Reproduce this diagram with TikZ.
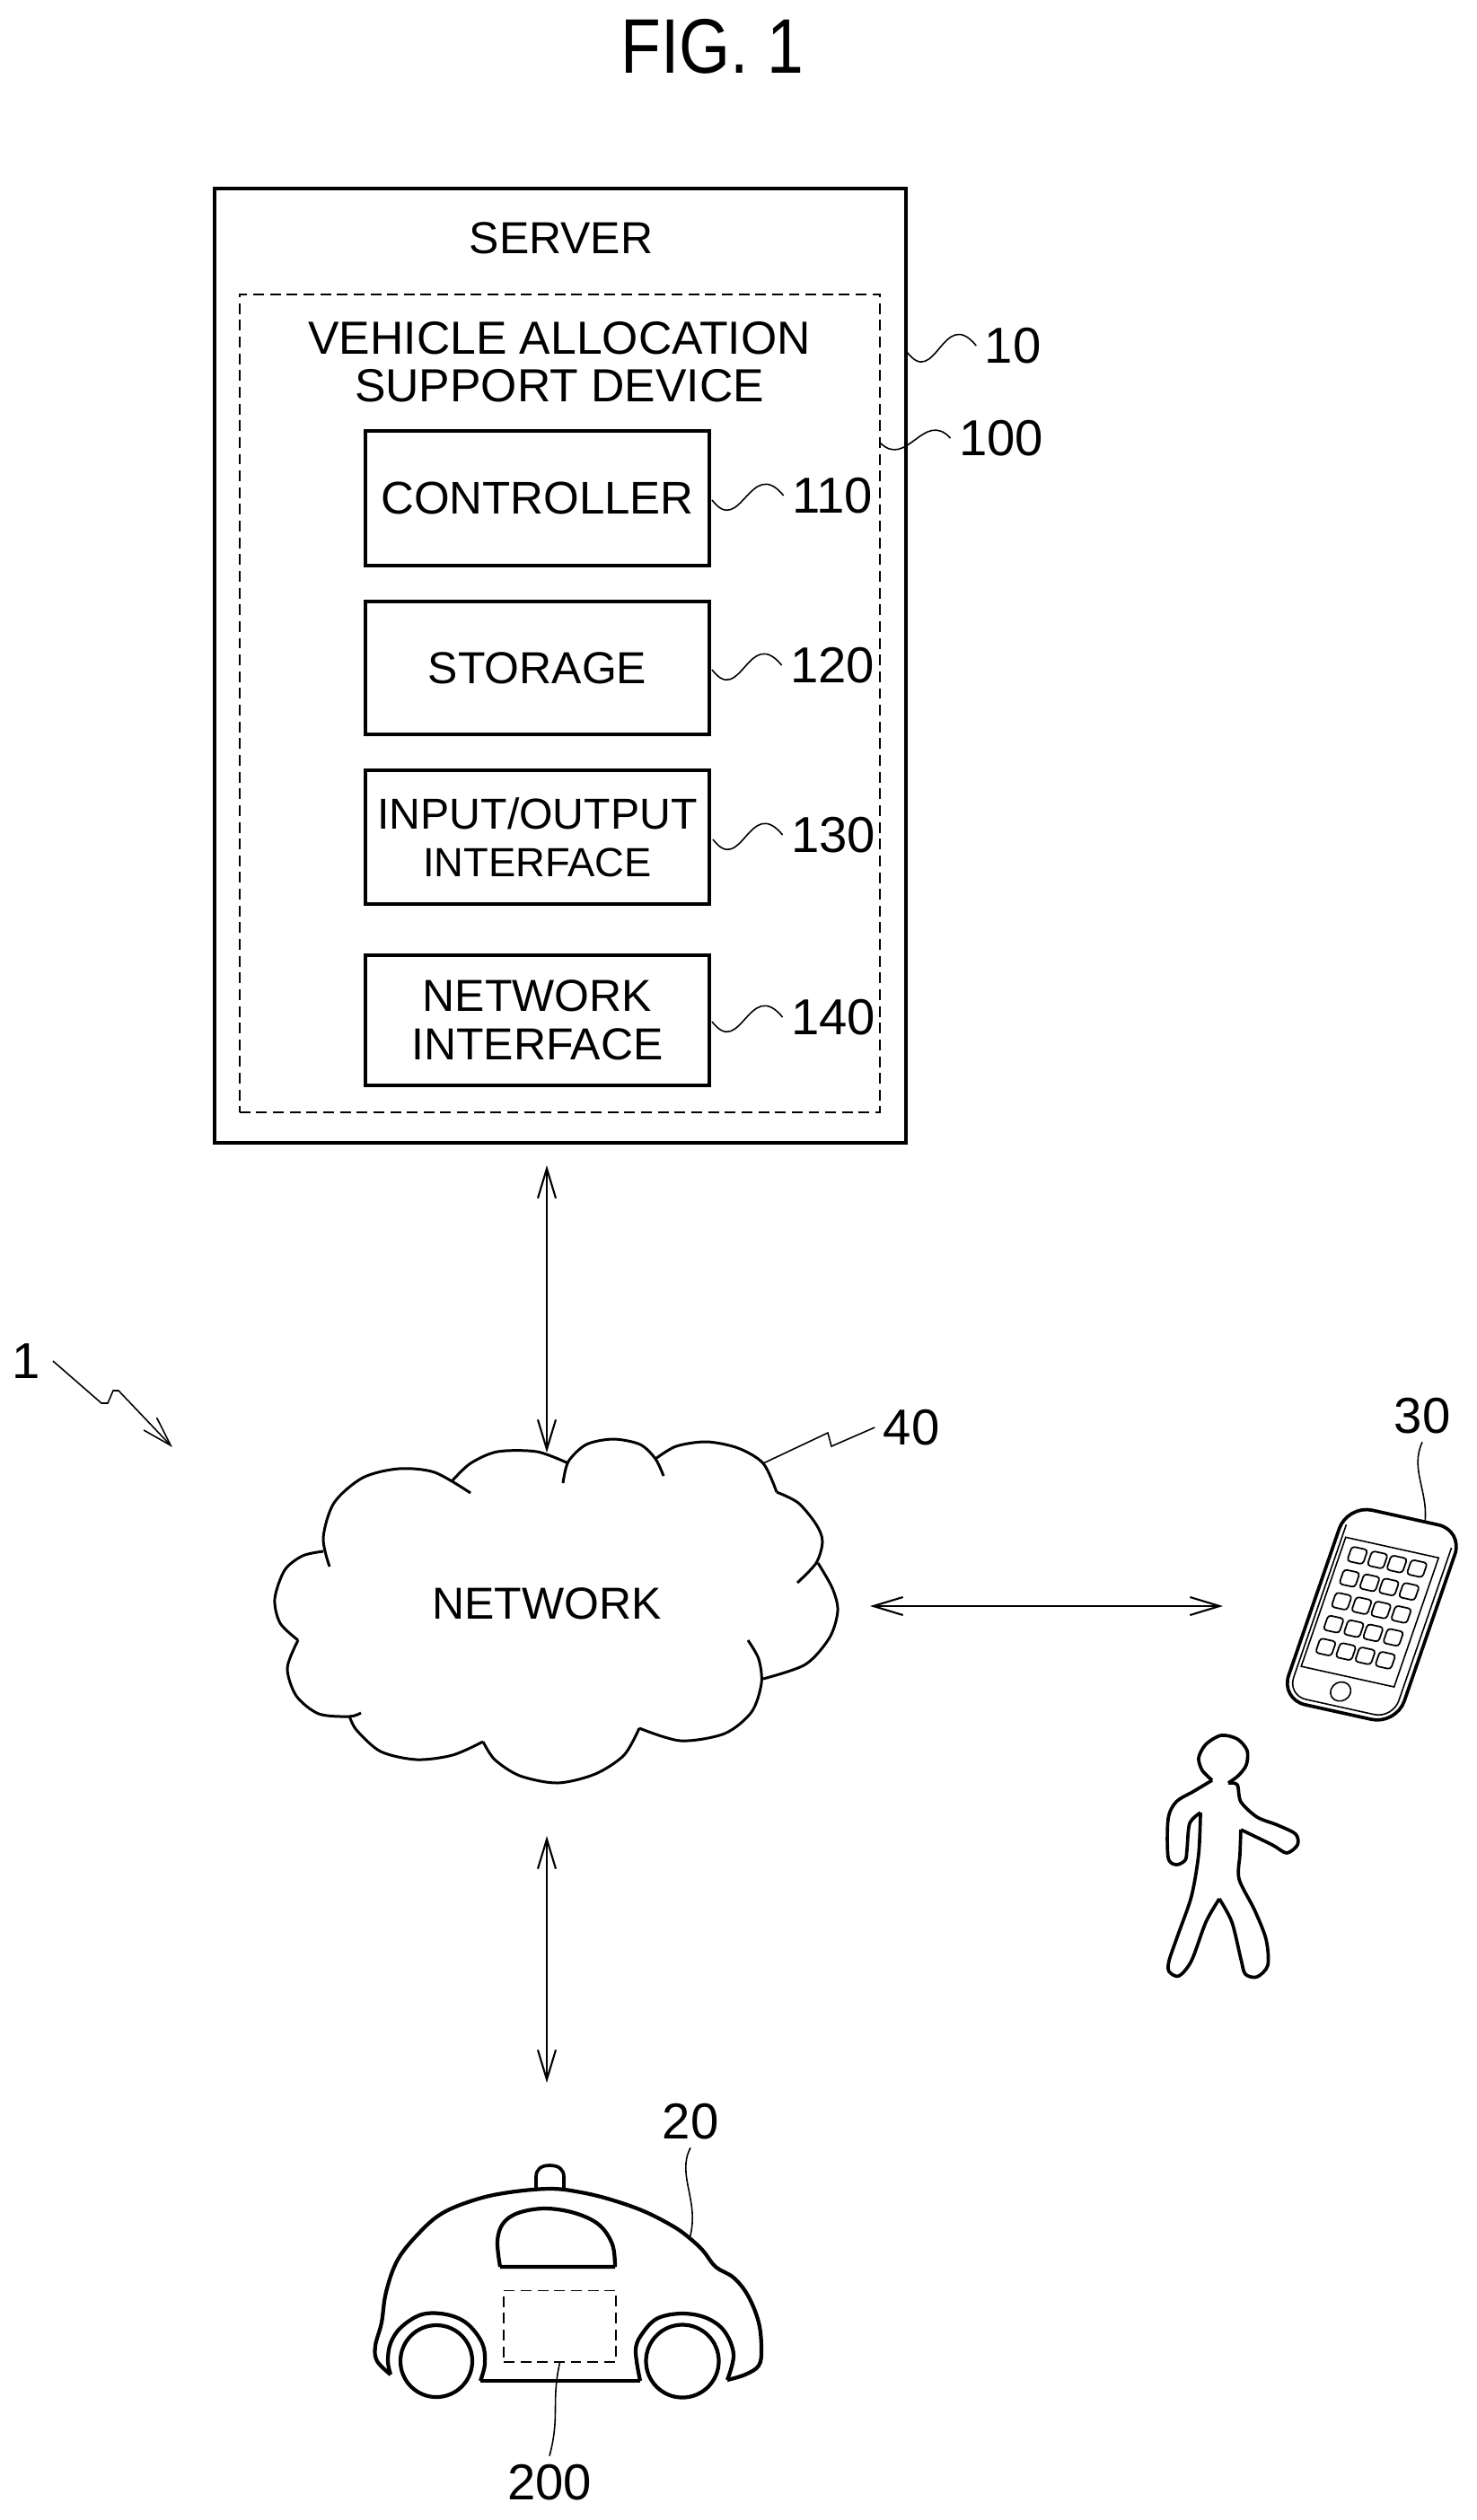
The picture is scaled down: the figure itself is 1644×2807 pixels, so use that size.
\documentclass[tikz,border=0pt]{standalone}
\usepackage{fontspec}
\setmainfont{Liberation Sans}
\newfontfamily\titlefont[FakeStretch=0.85]{Liberation Sans}
\usetikzlibrary{arrows.meta}

\tikzset{
  unitbox/.style={draw,line width=1.3pt,minimum width=3.83cm,font=\fontsize{14.2}{15.2}\selectfont,align=center,inner sep=0pt},
  plaintext/.style={font=\fontsize{14.2}{15.2}\selectfont,align=center,inner sep=0pt},
  refnum/.style={font=\fontsize{16}{18}\selectfont,inner sep=2.5pt},
  leadline/.style={line width=0.45pt},
  link/.style={line width=0.6pt,<->},
  outline/.style={line width=1.05pt,line join=round},
  thinline/.style={line width=0.5pt}
}

\begin{document}
\begin{tikzpicture}[x=0.01cm,y=-0.01cm,>={Straight Barb[length=9.4pt,width=5.7pt]}]
\useasboundingbox (0,0) rectangle (1644,2807);

% Title
\node[font=\titlefont\fontsize{24.5}{26}\selectfont,inner sep=0pt] (title) at (793,52) {FIG. 1};

% Server with its device
\node[draw,line width=1.15pt,minimum width=7.70cm,minimum height=10.63cm] (server) at (624,741.5) {};
\node[draw,dashed,line width=0.5pt,dash pattern=on 3.4pt off 1.9pt,minimum width=7.13cm,minimum height=9.11cm] (device) at (623.5,783.5) {};
\node[plaintext] (servername) at (625,265) {SERVER};
\node[plaintext,font=\fontsize{14.7}{15.2}\selectfont] (devicename) at (623,403) {VEHICLE ALLOCATION\\SUPPORT DEVICE};

% Units of the device
\node[unitbox,minimum height=1.50cm,font=\fontsize{14.5}{15.2}\selectfont] (controller) at (598.5,555) {CONTROLLER};
\node[unitbox,minimum height=1.48cm] (storage) at (598.5,744) {STORAGE};
\node[unitbox,minimum height=1.49cm] (iface) at (598.5,932.5) {\fontsize{13.7}{15.3}\selectfont INPUT/OUTPUT\\\fontsize{12.9}{15.3}\selectfont INTERFACE};
\node[unitbox,minimum height=1.45cm] (netiface) at (598.5,1136.5) {NETWORK\\INTERFACE};

% Reference numbers of the server
\node[refnum] (lab10) at (1128,385) {10};
\node[refnum] (lab100) at (1115,488) {100};
\node[refnum] (lab110) at (927,552) {110};
\node[refnum] (lab120) at (927,741) {120};
\node[refnum] (lab130) at (928,930) {130};
\node[refnum] (lab140) at (928,1133) {140};

\coordinate (w10) at (1010,392);
\coordinate (w100) at (980,493);
\coordinate (w110) at (793,557);
\coordinate (w120) at (793,746);
\coordinate (w130) at (794,935);
\coordinate (w140) at (793,1138);

\draw[leadline] (w10) .. controls +(32,42) and +(-37,-45) .. (lab10.west);
\draw[leadline] (w100) .. controls +(30,30) and +(-30,-32) .. (lab100.west);
\draw[leadline] (w110) .. controls +(32,42) and +(-37,-45) .. (lab110.west);
\draw[leadline] (w120) .. controls +(32,42) and +(-37,-45) .. (lab120.west);
\draw[leadline] (w130) .. controls +(32,42) and +(-37,-45) .. (lab130.west);
\draw[leadline] (w140) .. controls +(32,42) and +(-37,-45) .. (lab140.west);

% Network cloud
\node[plaintext] (network) at (609,1786) {NETWORK};
\draw[outline,line width=0.85pt] plot[smooth] coordinates {(367,1745) (360,1713) (372,1674) (404,1646) (444,1636) (484,1640) (524,1663)};
\draw[outline,line width=0.85pt] plot[smooth] coordinates {(504,1649) (524,1630) (554,1617) (598,1617) (633,1630)};
\draw[outline,line width=0.85pt] plot[smooth] coordinates {(627,1652) (633,1628) (653,1609) (683,1603) (713,1609) (730,1625) (739,1644)};
\draw[outline,line width=0.85pt] plot[smooth] coordinates {(730,1625) (753,1611) (787,1606) (822,1613) (850,1630) (865,1662)};
\draw[outline,line width=0.85pt] plot[smooth] coordinates {(865,1662) (889,1674) (909,1698) (916,1717) (909,1741) (888,1763)};
\draw[outline,line width=0.85pt] plot[smooth] coordinates {(911,1741) (927,1769) (933,1794) (924,1824) (897,1854) (850,1870)};
\draw[outline,line width=0.85pt] plot[smooth] coordinates {(833,1827) (845,1848) (848,1875) (837,1907) (807,1931) (758,1939) (712,1925)};
\draw[outline,line width=0.85pt] plot[smooth] coordinates {(712,1925) (695,1955) (663,1976) (621,1986) (579,1978) (551,1960) (538,1940)};
\draw[outline,line width=0.85pt] plot[smooth] coordinates {(538,1940) (504,1955) (464,1960) (424,1951) (397,1927) (389,1911)};
\draw[outline,line width=0.85pt] plot[smooth] coordinates {(402,1908) (389,1912) (355,1909) (330,1889) (320,1858) (332,1827)};
\draw[outline,line width=0.85pt] plot[smooth] coordinates {(332,1827) (312,1808) (306,1781) (317,1749) (337,1733) (360,1728)};
\node[refnum] (lab40) at (1015,1590) {40};
\coordinate (cloudtop) at (850,1630);
\draw[leadline] (cloudtop) -- (922,1596) -- (926,1611) -- (lab40.west);

% Links to the network
\coordinate (srvport) at (609,1298);
\coordinate (nettop) at (609,1618);
\coordinate (netbot) at (609,2045);
\coordinate (carport) at (609,2320);
\coordinate (netright) at (969,1789);
\coordinate (phoneport) at (1362,1789);
\draw[link] (srvport) -- (nettop);
\draw[link] (netbot) -- (carport);
\draw[link] (netright) -- (phoneport);

% System number
\node[refnum] (lab1) at (29,1516) {1};
\coordinate (sysstart) at (59,1516);
\coordinate (sysend) at (192,1612);
\draw[leadline,->] (sysstart) -- (113,1563) -- (120,1563) -- (126,1549) -- (132,1549) -- (sysend);

% Phone
\begin{scope}[shift={(1527,1798)},cm={.976,-.216,.326,.946,(0,0)}]
\draw[outline,rounded corners=8pt] (-65,-114) rectangle (67,115);
\draw[leadline,rounded corners=6pt] (-59,-92) -- (-59,109) -- (61,109) -- (61,-92);
\draw[leadline] (-55,-78) rectangle (51,74);
\draw[leadline] (-4,92) circle (11);
% Keys, one row per line
\draw[thinline,rounded corners=1pt] (-45,-69.5) rectangle (-27,-52.5) (-22,-69.5) rectangle (-4,-52.5) (0,-69.5) rectangle (18,-52.5) (23,-69.5) rectangle (41,-52.5);
\draw[thinline,rounded corners=1pt] (-45,-42.5) rectangle (-27,-25.5) (-22,-42.5) rectangle (-4,-25.5) (0,-42.5) rectangle (18,-25.5) (23,-42.5) rectangle (41,-25.5);
\draw[thinline,rounded corners=1pt] (-45,-15.5) rectangle (-27,1.5) (-22,-15.5) rectangle (-4,1.5) (0,-15.5) rectangle (18,1.5) (23,-15.5) rectangle (41,1.5);
\draw[thinline,rounded corners=1pt] (-45,11.5) rectangle (-27,28.5) (-22,11.5) rectangle (-4,28.5) (0,11.5) rectangle (18,28.5) (23,11.5) rectangle (41,28.5);
\draw[thinline,rounded corners=1pt] (-45,38.5) rectangle (-27,55.5) (-22,38.5) rectangle (-4,55.5) (0,38.5) rectangle (18,55.5) (23,38.5) rectangle (41,55.5);
\end{scope}
\node[refnum] (lab30) at (1584,1577) {30};
\coordinate (phonetop) at (1587,1696);
\draw[leadline] (lab30.south) .. controls +(-14,30) and +(4,-35) .. (phonetop);

% Person
\draw[outline] plot[smooth] coordinates {(1350,1983) (1339,1972) (1335,1958) (1343,1943) (1360,1933) (1378,1937) (1389,1950) (1388,1966) (1379,1978) (1368,1986)};
\draw[outline] plot[smooth,tension=.5] coordinates {(1368,1986) (1378,1988) (1382,2007) (1400,2024) (1423,2033) (1443,2043) (1445,2055) (1433,2064) (1417,2055) (1382,2038)};
\draw[outline] plot[smooth,tension=.5] coordinates {(1382,2038) (1381,2065) (1380,2093) (1397,2127) (1410,2160) (1412,2189) (1400,2202) (1387,2199) (1382,2182) (1372,2141) (1358,2115)};
\draw[outline] plot[smooth,tension=.5] coordinates {(1358,2115) (1343,2141) (1327,2184) (1313,2201) (1302,2196) (1302,2184) (1312,2155) (1327,2112) (1335,2065) (1337,2019)};
\draw[outline] plot[smooth,tension=.5] coordinates {(1337,2019) (1325,2031) (1322,2060) (1320,2072) (1310,2077) (1301,2069) (1301,2026) (1310,2007) (1330,1995) (1350,1983)};

% Vehicle
\draw[outline,line width=1.2pt] plot[smooth,tension=.6] coordinates {(435,2645) (420,2630) (418,2613) (425,2587) (430,2553) (443,2517) (467,2487) (493,2465) (530,2450) (567,2442) (613,2438) (647,2442) (680,2450) (717,2463) (750,2480) (768,2493) (783,2507) (797,2525) (817,2537) (833,2557) (845,2587) (848,2617) (845,2635) (830,2645) (810,2651)};
\draw[outline,line width=1.2pt] plot[smooth,tension=.6] coordinates {(810,2651) (817,2623) (807,2597) (787,2582) (760,2577) (733,2582) (717,2597) (708,2617) (713,2652)};
\draw[outline,line width=1.2pt] (713,2652) -- (535,2652);
\draw[outline,line width=1.2pt] plot[smooth,tension=.6] coordinates {(535,2652) (540,2633) (537,2610) (520,2588) (497,2578) (470,2578) (447,2592) (435,2610) (432,2630) (435,2645)};
\node[draw,line width=1.2pt,circle,minimum size=0.80cm,inner sep=0pt] (wheelrear) at (486,2630) {};
\node[draw,line width=1.2pt,circle,minimum size=0.81cm,inner sep=0pt] (wheelfront) at (760,2630) {};
\draw[outline] (597,2438) -- (597,2425) .. controls (597,2416) and (603,2412) .. (612,2412) .. controls (622,2412) and (628,2416) .. (628,2425) -- (628,2438);
\draw[outline,line width=1.2pt] (557,2525) -- (685,2525) plot[smooth,tension=.6] coordinates {(685,2525) (682,2500) (667,2478) (640,2465) (607,2460) (577,2465) (560,2477) (554,2497) (557,2525)};
\node[draw,dashed,line width=0.55pt,dash pattern=on 3.4pt off 1.9pt,minimum width=1.25cm,minimum height=0.79cm] (vehicledevice) at (623.5,2591) {};
\node[refnum] (lab20) at (769,2363) {20};
\node[refnum] (lab200) at (612,2765) {200};
\coordinate (roofpoint) at (768,2493);
\draw[leadline] (lab20.south) .. controls +(-16,30) and +(12,-40) .. (roofpoint);
\draw[leadline] (vehicledevice.south) .. controls +(-10,45) and +(12,-45) .. (lab200.north);

\end{tikzpicture}
\end{document}
